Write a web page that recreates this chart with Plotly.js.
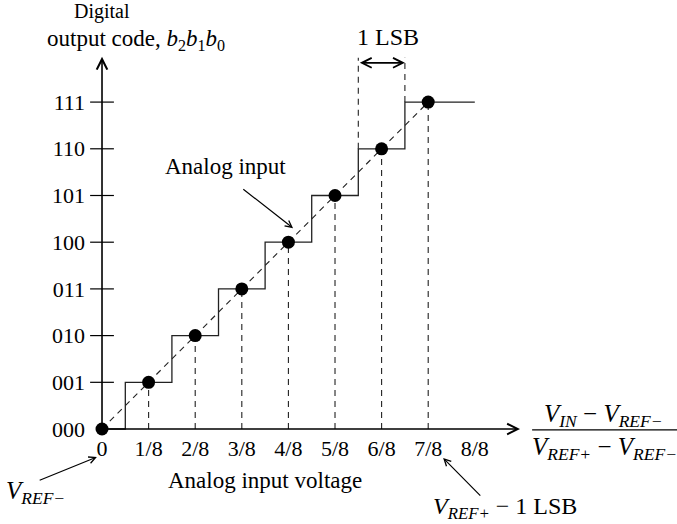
<!DOCTYPE html>
<html>
<head>
<meta charset="utf-8">
<script src="https://cdn.plot.ly/plotly-3.0.1.min.js"></script>
<style>html,body{margin:0;padding:0;background:#fff;}#chart{width:677px;height:524px;}</style>
</head>
<body>
<div id="chart"></div>
<script>
// Data (x in units of 1/8 of full scale, y = output code index)
const codeLabels = ["000","001","010","011","100","101","110","111"];
const codeValues = [0,1,2,3,4,5,6,7];
const xTickVals = [0,1,2,3,4,5,6,7,8];
const xTickText = ["0","1/8","2/8","3/8","4/8","5/8","6/8","7/8","8/8"];
const dotX = [0,1,2,3,4,5,6,7];          // analog input sample points
const dotY = [0,1,2,3,4,5,6,7];
const stairX = [0,0.5,1.5,2.5,3.5,4.5,5.5,6.5,8.0]; // transition points
const stairY = [0,1,2,3,4,5,6,7,7];
const lsbX = [5.5,6.5];                  // 1 LSB marker
const lsbLevel = [6,7];
const lsbTop = 7.95;

const FONT = "\"Liberation Serif\", \"Times New Roman\", serif";
const BLACK = "#000";

const traces = [];
// staircase
traces.push({x: stairX, y: stairY, mode: "lines", line: {shape: "hv", color: "#222", width: 1.3},
  hoverinfo: "skip", cliponaxis: false, showlegend: false});
// dashed diagonal
traces.push({x: [dotX[0], dotX[dotX.length-1]], y: [dotY[0], dotY[dotY.length-1]], mode: "lines",
  line: {color: "#222", width: 1.1, dash: "6px,5px"}, hoverinfo: "skip", showlegend: false});
// dashed drop lines from each dot
dotX.slice(1).forEach((x, i) => {
  traces.push({x: [x, x], y: [0, dotY[i+1]], mode: "lines",
    line: {color: "#222", width: 1.1, dash: "6px,5px"}, hoverinfo: "skip", showlegend: false});
});
// dashed LSB lines
lsbX.forEach((x, i) => {
  traces.push({x: [x, x], y: [lsbLevel[i], lsbTop], mode: "lines",
    line: {color: "#222", width: 1.1, dash: "6px,5px"}, hoverinfo: "skip", showlegend: false});
});
// y tick marks crossing the axis
traces.push({x: codeValues.slice(1).map(() => 0), y: codeValues.slice(1), mode: "markers",
  marker: {symbol: "line-ew-open", size: 17, color: BLACK, line: {color: BLACK, width: 1.2}},
  hoverinfo: "skip", showlegend: false});
// dots
traces.push({x: dotX, y: dotY, mode: "markers", marker: {color: BLACK, size: 13},
  hoverinfo: "skip", cliponaxis: false, showlegend: false});

const annotations = [
  // x axis arrow
  {x: 8.97, y: 0, ax: 0, ay: 0, xref: "x", yref: "y", axref: "x", ayref: "y",
   showarrow: true, arrowhead: 5, arrowsize: 1.3, arrowwidth: 1.6, arrowcolor: BLACK, text: ""},
  // y axis arrow
  {x: 0, y: 7.97, ax: 0, ay: 0, xref: "x", yref: "y", axref: "x", ayref: "y",
   showarrow: true, arrowhead: 5, arrowsize: 1.3, arrowwidth: 1.6, arrowcolor: BLACK, text: ""},
  // 1 LSB double arrow
  {x: lsbX[1], y: 7.84, ax: lsbX[0], ay: 7.84, xref: "x", yref: "y", axref: "x", ayref: "y",
   showarrow: true, arrowhead: 5, startarrowhead: 5, arrowside: "end+start", arrowsize: 1.2, startarrowsize: 1.2,
   arrowwidth: 1.6, arrowcolor: BLACK, text: ""},
  {x: 6.14, y: 8.39, xref: "x", yref: "y", showarrow: false, text: "1 LSB",
   font: {family: FONT, size: 24, color: BLACK}},
  // y title
  {x: 0, y: 8.93, xref: "x", yref: "y", showarrow: false, text: "Digital",
   font: {family: FONT, size: 20, color: BLACK}},
  {x: 0.73, y: 8.34, xref: "x", yref: "y", showarrow: false,
   text: "output code, <i>b</i><sub>2</sub><i>b</i><sub>1</sub><i>b</i><sub>0</sub>",
   font: {family: FONT, size: 23, color: BLACK}},
  // Analog input label with arrow
  {x: 4.10, y: 4.30, ax: 3.0, ay: 5.16, xref: "x", yref: "y", axref: "x", ayref: "y",
   showarrow: true, arrowhead: 5, arrowsize: 1.1, arrowwidth: 1.2, arrowcolor: BLACK, text: ""},
  {x: 2.64, y: 5.63, xref: "x", yref: "y", showarrow: false, text: "Analog input",
   font: {family: FONT, size: 23, color: BLACK}},
  // x title
  {x: 3.5, y: -1.11, xref: "x", yref: "y", showarrow: false, text: "Analog input voltage",
   font: {family: FONT, size: 23, color: BLACK}},
  // VREF- with arrow
  {x: -0.11, y: -0.60, ax: -1.37, ay: -1.11, xref: "x", yref: "y", axref: "x", ayref: "y",
   showarrow: true, arrowhead: 5, arrowsize: 1.1, arrowwidth: 1.2, arrowcolor: BLACK, text: ""},
  {x: -1.42, y: -1.37, xref: "x", yref: "y", showarrow: false,
   text: "<i>V</i><sub><i>REF−</i></sub>", font: {family: FONT, size: 25, color: BLACK}},
  // VREF+ - 1 LSB with arrow
  {x: 7.32, y: -0.62, ax: 8.15, ay: -1.46, xref: "x", yref: "y", axref: "x", ayref: "y",
   showarrow: true, arrowhead: 5, arrowsize: 1.1, arrowwidth: 1.2, arrowcolor: BLACK, text: ""},
  {x: 8.64, y: -1.70, xref: "x", yref: "y", showarrow: false,
   text: "<i>V</i><sub><i>REF+</i></sub> − 1 LSB", font: {family: FONT, size: 24, color: BLACK}},
  // fraction label
  {x: 10.77, y: 0.29, xref: "x", yref: "y", showarrow: false,
   text: "<i>V</i><sub><i>IN</i></sub> − <i>V</i><sub><i>REF−</i></sub>", font: {family: FONT, size: 25, color: BLACK}},
  {x: 10.78, y: -0.42, xref: "x", yref: "y", showarrow: false,
   text: "<i>V</i><sub><i>REF+</i></sub> − <i>V</i><sub><i>REF−</i></sub>", font: {family: FONT, size: 25, color: BLACK}}
];

const shapes = [
  {type: "line", xref: "x", yref: "y", x0: 9.23, x1: 12.34, y0: -0.02, y1: -0.02, line: {color: BLACK, width: 1.2}}
];

const layout = {
  width: 677, height: 524,
  margin: {l: 0, r: 0, t: 0, b: 0},
  paper_bgcolor: "#fff", plot_bgcolor: "#fff",
  showlegend: false,
  xaxis: {range: [-2.189, 12.339], anchor: "free", position: 95/524, showgrid: false, zeroline: false,
    showline: false, ticks: "", tickvals: xTickVals, ticktext: xTickText, ticklabelstandoff: 4,
    tickfont: {family: FONT, size: 22, color: BLACK}, fixedrange: true},
  yaxis: {range: [-2.034, 9.186], anchor: "free", position: 102/677, showgrid: false, zeroline: false,
    showline: false, ticks: "", tickvals: codeValues, ticktext: codeLabels, ticklabelstandoff: 17,
    tickfont: {family: FONT, size: 22, color: BLACK}, fixedrange: true},
  annotations: annotations,
  shapes: shapes
};

Plotly.newPlot("chart", traces, layout, {displayModeBar: false, staticPlot: true});
</script>
</body>
</html>
